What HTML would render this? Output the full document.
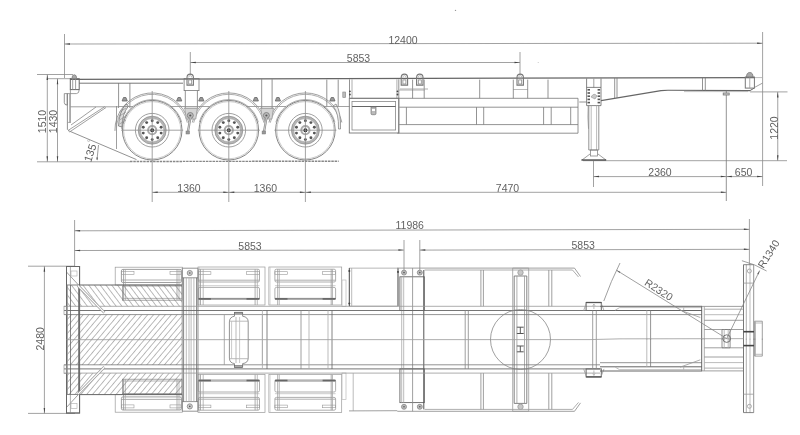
<!DOCTYPE html><html><head><meta charset="utf-8"><style>html,body{margin:0;padding:0;background:#fff;}svg{display:block;}svg{filter:grayscale(1);}</style></head><body><svg width="800" height="435" viewBox="0 0 800 435" font-family="Liberation Sans, sans-serif"><line x1="64.50" y1="34.00" x2="64.50" y2="78.00" stroke="#8a8a8a" stroke-width="0.8" />
<line x1="762.60" y1="32.00" x2="762.60" y2="186.00" stroke="#8a8a8a" stroke-width="0.8" />
<line x1="64.50" y1="44.00" x2="762.60" y2="43.20" stroke="#8a8a8a" stroke-width="0.8" />
<path d="M64.5,44 L70.0,43.25 L70.0,44.75Z" fill="#444" stroke="none"/>
<path d="M762.6,43.2 L757.1,42.45 L757.1,43.95Z" fill="#444" stroke="none"/>
<text x="403.00" y="39.80" font-size="10.5" fill="#626262" text-anchor="middle" dominant-baseline="central">12400</text>
<line x1="190.30" y1="52.00" x2="190.30" y2="75.00" stroke="#8a8a8a" stroke-width="0.8" />
<line x1="520.00" y1="52.00" x2="520.00" y2="75.00" stroke="#8a8a8a" stroke-width="0.8" />
<line x1="190.30" y1="62.50" x2="520.00" y2="62.50" stroke="#8a8a8a" stroke-width="0.8" />
<path d="M190.3,62.5 L195.8,61.75 L195.8,63.25Z" fill="#444" stroke="none"/>
<path d="M520,62.5 L514.5,61.75 L514.5,63.25Z" fill="#444" stroke="none"/>
<text x="358.50" y="58.30" font-size="10.5" fill="#626262" text-anchor="middle" dominant-baseline="central">5853</text>
<line x1="37.00" y1="74.50" x2="73.00" y2="74.50" stroke="#8a8a8a" stroke-width="0.8" />
<line x1="47.00" y1="78.70" x2="71.00" y2="78.70" stroke="#8a8a8a" stroke-width="0.8" />
<line x1="37.00" y1="161.80" x2="130.00" y2="161.80" stroke="#8a8a8a" stroke-width="0.8" />
<line x1="47.30" y1="74.50" x2="47.30" y2="161.80" stroke="#8a8a8a" stroke-width="0.8" />
<path d="M47.3,74.5 L46.55,80.0 L48.05,80.0Z" fill="#444" stroke="none"/>
<path d="M47.3,161.8 L46.55,156.3 L48.05,156.3Z" fill="#444" stroke="none"/>
<line x1="57.50" y1="78.70" x2="57.50" y2="161.80" stroke="#8a8a8a" stroke-width="0.8" />
<path d="M57.5,78.7 L56.75,84.2 L58.25,84.2Z" fill="#444" stroke="none"/>
<path d="M57.5,161.8 L56.75,156.3 L58.25,156.3Z" fill="#444" stroke="none"/>
<text x="41.50" y="121.50" font-size="10.5" fill="#626262" text-anchor="middle" dominant-baseline="central" transform="rotate(-90 41.50 121.50)">1510</text>
<text x="53.20" y="121.50" font-size="10.5" fill="#626262" text-anchor="middle" dominant-baseline="central" transform="rotate(-90 53.20 121.50)">1430</text>
<line x1="130.00" y1="161.50" x2="338.70" y2="161.20" stroke="#888" stroke-width="1.4" stroke-dasharray="2.5,0.8"/>
<line x1="583.00" y1="160.70" x2="787.00" y2="160.70" stroke="#8a8a8a" stroke-width="0.8" />
<line x1="70.00" y1="79.30" x2="755.00" y2="77.60" stroke="#666" stroke-width="1.2" />
<line x1="79.20" y1="83.20" x2="183.00" y2="83.20" stroke="#777" stroke-width="1.0" />
<rect x="70.30" y="78.70" width="8.90" height="10.90" rx="0" stroke="#666" stroke-width="1.0" fill="none"/>
<path d="M71.9,78.7 Q71.9,74.7 74.3,74.7 Q76.7,74.7 76.7,78.7 Z" stroke="#777" stroke-width="0.7" fill="#aaa"/>
<line x1="72.70" y1="78.70" x2="72.70" y2="89.60" stroke="#888" stroke-width="0.8" />
<line x1="75.60" y1="78.70" x2="75.60" y2="89.60" stroke="#888" stroke-width="0.8" />
<path d="M70.3,89.6 L70.3,89.6 M79.2,89.6 Q79.2,93.6 76.4,93.6 L64.3,93.6" stroke="#888" stroke-width="0.8" fill="none"/>
<path d="M64.3,93.6 L64.3,102.5 Q64.3,105.1 67.2,105.1 L67.2,93.6" stroke="#777" stroke-width="0.8" fill="none"/>
<line x1="67.40" y1="93.60" x2="67.40" y2="129.80" stroke="#777" stroke-width="0.8" />
<line x1="69.50" y1="93.60" x2="69.50" y2="122.90" stroke="#aaa" stroke-width="0.8" />
<line x1="70.40" y1="89.60" x2="70.40" y2="122.90" stroke="#888" stroke-width="0.8" />
<line x1="67.40" y1="122.40" x2="70.40" y2="122.40" stroke="#999" stroke-width="0.8" />
<line x1="70.40" y1="106.80" x2="118.60" y2="106.80" stroke="#888" stroke-width="0.8" />
<line x1="68.00" y1="130.50" x2="136.50" y2="159.60" stroke="#777" stroke-width="0.8" />
<line x1="68.00" y1="130.50" x2="104.80" y2="106.60" stroke="#888" stroke-width="0.8" />
<line x1="69.50" y1="132.00" x2="106.00" y2="107.50" stroke="#888" stroke-width="0.8" />
<line x1="71.00" y1="125.00" x2="96.00" y2="107.00" stroke="#888" stroke-width="0.8" />
<line x1="116.50" y1="106.00" x2="116.50" y2="149.00" stroke="#888" stroke-width="0.8" />
<line x1="118.60" y1="83.00" x2="118.60" y2="108.00" stroke="#777" stroke-width="0.8" />
<line x1="129.90" y1="83.00" x2="129.90" y2="108.00" stroke="#777" stroke-width="0.8" />
<text x="90.00" y="152.80" font-size="11" fill="#626262" text-anchor="middle" dominant-baseline="central" transform="rotate(-72 90.00 152.80)">135</text>
<circle cx="88.60" cy="140.60" r="1.00" stroke="#999" stroke-width="0.5" fill="none"/>
<line x1="98.50" y1="145.00" x2="97.00" y2="160.00" stroke="#888" stroke-width="0.8" />
<path d="M97.1,160.5 L96.39999999999999,157.5 L97.8,157.5Z" fill="#444" stroke="none"/>
<circle cx="152.20" cy="130.20" r="29.80" stroke="#777" stroke-width="0.9" fill="none"/>
<circle cx="152.20" cy="130.20" r="28.60" stroke="#aaa" stroke-width="0.6" fill="none"/>
<path d="M114.91,130.85 A37.30,37.30 0 0 1 188.68,122.44" stroke="#888" stroke-width="0.8" fill="none"/>
<path d="M116.31,130.83 A35.90,35.90 0 0 1 187.32,122.74" stroke="#999" stroke-width="0.8" fill="none"/>
<path d="M121.62,129.13 A30.60,30.60 0 0 1 181.76,122.28" stroke="#999" stroke-width="0.8" fill="none"/>
<circle cx="152.20" cy="130.20" r="16.80" stroke="#888" stroke-width="0.8" fill="none"/>
<circle cx="152.20" cy="130.20" r="12.85" stroke="#b4b4b4" stroke-width="2.3" fill="none"/>
<circle cx="152.20" cy="130.20" r="14.00" stroke="#888" stroke-width="0.7" fill="none"/>
<circle cx="152.20" cy="130.20" r="11.70" stroke="#999" stroke-width="0.6" fill="none"/>
<circle cx="152.20" cy="120.80" r="1.45" stroke="none" stroke-width="0.8" fill="#555"/>
<circle cx="146.67" cy="122.60" r="1.45" stroke="none" stroke-width="0.8" fill="#555"/>
<circle cx="143.26" cy="127.30" r="1.45" stroke="none" stroke-width="0.8" fill="#555"/>
<circle cx="143.26" cy="133.10" r="1.45" stroke="none" stroke-width="0.8" fill="#555"/>
<circle cx="146.67" cy="137.80" r="1.45" stroke="none" stroke-width="0.8" fill="#555"/>
<circle cx="152.20" cy="139.60" r="1.45" stroke="none" stroke-width="0.8" fill="#555"/>
<circle cx="157.73" cy="137.80" r="1.45" stroke="none" stroke-width="0.8" fill="#555"/>
<circle cx="161.14" cy="133.10" r="1.45" stroke="none" stroke-width="0.8" fill="#555"/>
<circle cx="161.14" cy="127.30" r="1.45" stroke="none" stroke-width="0.8" fill="#555"/>
<circle cx="157.73" cy="122.60" r="1.45" stroke="none" stroke-width="0.8" fill="#555"/>
<circle cx="152.20" cy="130.20" r="4.10" stroke="#aaa" stroke-width="2.0" fill="none"/>
<circle cx="152.20" cy="130.20" r="2.00" stroke="none" stroke-width="0.8" fill="#222"/>
<line x1="121.20" y1="130.20" x2="183.20" y2="130.20" stroke="#8c8c8c" stroke-width="0.8" />
<line x1="152.20" y1="91.00" x2="152.20" y2="202.00" stroke="#8c8c8c" stroke-width="0.8" />
<path d="M122.1,101 L123.49999999999999,97.5 L125.89999999999999,97.5 L127.29999999999998,101 Z" stroke="#666" stroke-width="0.8" fill="#999"/>
<path d="M176.6,101 L178.0,97.5 L180.39999999999998,97.5 L181.79999999999998,101 Z" stroke="#666" stroke-width="0.8" fill="#999"/>
<circle cx="228.80" cy="130.20" r="29.80" stroke="#777" stroke-width="0.9" fill="none"/>
<circle cx="228.80" cy="130.20" r="28.60" stroke="#aaa" stroke-width="0.6" fill="none"/>
<path d="M192.32,122.44 A37.30,37.30 0 0 1 265.28,122.44" stroke="#888" stroke-width="0.8" fill="none"/>
<path d="M193.68,122.74 A35.90,35.90 0 0 1 263.92,122.74" stroke="#999" stroke-width="0.8" fill="none"/>
<path d="M199.24,122.28 A30.60,30.60 0 0 1 258.36,122.28" stroke="#999" stroke-width="0.8" fill="none"/>
<circle cx="228.80" cy="130.20" r="16.80" stroke="#888" stroke-width="0.8" fill="none"/>
<circle cx="228.80" cy="130.20" r="12.85" stroke="#b4b4b4" stroke-width="2.3" fill="none"/>
<circle cx="228.80" cy="130.20" r="14.00" stroke="#888" stroke-width="0.7" fill="none"/>
<circle cx="228.80" cy="130.20" r="11.70" stroke="#999" stroke-width="0.6" fill="none"/>
<circle cx="228.80" cy="120.80" r="1.45" stroke="none" stroke-width="0.8" fill="#555"/>
<circle cx="223.27" cy="122.60" r="1.45" stroke="none" stroke-width="0.8" fill="#555"/>
<circle cx="219.86" cy="127.30" r="1.45" stroke="none" stroke-width="0.8" fill="#555"/>
<circle cx="219.86" cy="133.10" r="1.45" stroke="none" stroke-width="0.8" fill="#555"/>
<circle cx="223.27" cy="137.80" r="1.45" stroke="none" stroke-width="0.8" fill="#555"/>
<circle cx="228.80" cy="139.60" r="1.45" stroke="none" stroke-width="0.8" fill="#555"/>
<circle cx="234.33" cy="137.80" r="1.45" stroke="none" stroke-width="0.8" fill="#555"/>
<circle cx="237.74" cy="133.10" r="1.45" stroke="none" stroke-width="0.8" fill="#555"/>
<circle cx="237.74" cy="127.30" r="1.45" stroke="none" stroke-width="0.8" fill="#555"/>
<circle cx="234.33" cy="122.60" r="1.45" stroke="none" stroke-width="0.8" fill="#555"/>
<circle cx="228.80" cy="130.20" r="4.10" stroke="#aaa" stroke-width="2.0" fill="none"/>
<circle cx="228.80" cy="130.20" r="2.00" stroke="none" stroke-width="0.8" fill="#222"/>
<line x1="197.80" y1="130.20" x2="259.80" y2="130.20" stroke="#8c8c8c" stroke-width="0.8" />
<line x1="228.80" y1="91.00" x2="228.80" y2="202.00" stroke="#8c8c8c" stroke-width="0.8" />
<path d="M198.70000000000002,101 L200.10000000000002,97.5 L202.5,97.5 L203.9,101 Z" stroke="#666" stroke-width="0.8" fill="#999"/>
<path d="M253.20000000000002,101 L254.60000000000002,97.5 L257.0,97.5 L258.40000000000003,101 Z" stroke="#666" stroke-width="0.8" fill="#999"/>
<circle cx="305.40" cy="130.20" r="29.80" stroke="#777" stroke-width="0.9" fill="none"/>
<circle cx="305.40" cy="130.20" r="28.60" stroke="#aaa" stroke-width="0.6" fill="none"/>
<path d="M268.92,122.44 A37.30,37.30 0 0 1 341.88,122.44" stroke="#888" stroke-width="0.8" fill="none"/>
<path d="M270.28,122.74 A35.90,35.90 0 0 1 340.52,122.74" stroke="#999" stroke-width="0.8" fill="none"/>
<path d="M275.84,122.28 A30.60,30.60 0 0 1 334.96,122.28" stroke="#999" stroke-width="0.8" fill="none"/>
<circle cx="305.40" cy="130.20" r="16.80" stroke="#888" stroke-width="0.8" fill="none"/>
<circle cx="305.40" cy="130.20" r="12.85" stroke="#b4b4b4" stroke-width="2.3" fill="none"/>
<circle cx="305.40" cy="130.20" r="14.00" stroke="#888" stroke-width="0.7" fill="none"/>
<circle cx="305.40" cy="130.20" r="11.70" stroke="#999" stroke-width="0.6" fill="none"/>
<circle cx="305.40" cy="120.80" r="1.45" stroke="none" stroke-width="0.8" fill="#555"/>
<circle cx="299.87" cy="122.60" r="1.45" stroke="none" stroke-width="0.8" fill="#555"/>
<circle cx="296.46" cy="127.30" r="1.45" stroke="none" stroke-width="0.8" fill="#555"/>
<circle cx="296.46" cy="133.10" r="1.45" stroke="none" stroke-width="0.8" fill="#555"/>
<circle cx="299.87" cy="137.80" r="1.45" stroke="none" stroke-width="0.8" fill="#555"/>
<circle cx="305.40" cy="139.60" r="1.45" stroke="none" stroke-width="0.8" fill="#555"/>
<circle cx="310.93" cy="137.80" r="1.45" stroke="none" stroke-width="0.8" fill="#555"/>
<circle cx="314.34" cy="133.10" r="1.45" stroke="none" stroke-width="0.8" fill="#555"/>
<circle cx="314.34" cy="127.30" r="1.45" stroke="none" stroke-width="0.8" fill="#555"/>
<circle cx="310.93" cy="122.60" r="1.45" stroke="none" stroke-width="0.8" fill="#555"/>
<circle cx="305.40" cy="130.20" r="4.10" stroke="#aaa" stroke-width="2.0" fill="none"/>
<circle cx="305.40" cy="130.20" r="2.00" stroke="none" stroke-width="0.8" fill="#222"/>
<line x1="274.40" y1="130.20" x2="336.40" y2="130.20" stroke="#8c8c8c" stroke-width="0.8" />
<line x1="305.40" y1="91.00" x2="305.40" y2="202.00" stroke="#8c8c8c" stroke-width="0.8" />
<path d="M275.29999999999995,101 L276.7,97.5 L279.09999999999997,97.5 L280.5,101 Z" stroke="#666" stroke-width="0.8" fill="#999"/>
<path d="M329.79999999999995,101 L331.2,97.5 L333.59999999999997,97.5 L335.0,101 Z" stroke="#666" stroke-width="0.8" fill="#999"/>
<path d="M118.5,126 Q119,112 126,104 L128.5,106 Q122,114 122,127 Z" stroke="#777" stroke-width="0.8" fill="#ddd"/>
<line x1="119.50" y1="112.00" x2="126.00" y2="108.00" stroke="#888" stroke-width="0.6" />
<line x1="119.50" y1="116.00" x2="126.00" y2="112.00" stroke="#888" stroke-width="0.6" />
<line x1="119.50" y1="120.00" x2="126.00" y2="116.00" stroke="#888" stroke-width="0.6" />
<line x1="119.50" y1="124.00" x2="126.00" y2="120.00" stroke="#888" stroke-width="0.6" />
<path d="M336,104 Q341,112 340.5,129 L338.5,129 Q339,113 333,106 Z" stroke="#888" stroke-width="0.8" fill="#eee"/>
<rect x="184.10" y="78.50" width="14.90" height="12.10" rx="0" stroke="#777" stroke-width="0.8" fill="none"/>
<line x1="185.30" y1="90.60" x2="185.30" y2="108.30" stroke="#777" stroke-width="0.8" />
<line x1="197.40" y1="90.60" x2="197.40" y2="108.30" stroke="#777" stroke-width="0.8" />
<line x1="183.80" y1="108.30" x2="197.80" y2="108.30" stroke="#888" stroke-width="0.8" />
<path d="M184.8,108.3 L197.3,108.3 L195.8,119 L186.3,119Z" stroke="#999" stroke-width="0.8" fill="#d4d4d4"/>
<circle cx="190.30" cy="115.50" r="3.00" stroke="#777" stroke-width="0.8" fill="#bbb"/>
<circle cx="190.30" cy="115.50" r="1.10" stroke="none" stroke-width="0.8" fill="#555"/>
<line x1="190.30" y1="118.00" x2="187.80" y2="132.50" stroke="#888" stroke-width="2.2" />
<line x1="190.30" y1="118.00" x2="187.80" y2="132.50" stroke="#ddd" stroke-width="0.8" />
<rect x="186.00" y="131.00" width="3.50" height="3.00" rx="0" stroke="#777" stroke-width="0.5" fill="#999"/>
<line x1="259.90" y1="108.30" x2="273.90" y2="108.30" stroke="#888" stroke-width="0.8" />
<path d="M260.9,108.3 L273.4,108.3 L271.9,119 L262.4,119Z" stroke="#999" stroke-width="0.8" fill="#d4d4d4"/>
<circle cx="266.40" cy="115.50" r="3.00" stroke="#777" stroke-width="0.8" fill="#bbb"/>
<circle cx="266.40" cy="115.50" r="1.10" stroke="none" stroke-width="0.8" fill="#555"/>
<line x1="266.40" y1="118.00" x2="263.90" y2="132.50" stroke="#888" stroke-width="2.2" />
<line x1="266.40" y1="118.00" x2="263.90" y2="132.50" stroke="#ddd" stroke-width="0.8" />
<rect x="262.10" y="131.00" width="3.50" height="3.00" rx="0" stroke="#777" stroke-width="0.5" fill="#999"/>
<line x1="261.70" y1="79.20" x2="261.70" y2="108.30" stroke="#777" stroke-width="0.8" />
<line x1="272.10" y1="79.20" x2="272.10" y2="108.30" stroke="#777" stroke-width="0.8" />
<line x1="326.80" y1="79.60" x2="326.80" y2="106.40" stroke="#777" stroke-width="0.8" />
<line x1="338.20" y1="79.60" x2="338.20" y2="106.40" stroke="#777" stroke-width="0.8" />
<line x1="349.50" y1="79.30" x2="349.50" y2="98.30" stroke="#777" stroke-width="0.8" />
<line x1="352.00" y1="79.30" x2="352.00" y2="98.30" stroke="#999" stroke-width="0.8" />
<line x1="396.90" y1="79.30" x2="396.90" y2="98.30" stroke="#999" stroke-width="0.8" />
<line x1="398.80" y1="79.30" x2="398.80" y2="133.00" stroke="#777" stroke-width="0.8" />
<line x1="118.60" y1="106.50" x2="133.00" y2="106.50" stroke="#8c8c8c" stroke-width="0.8" />
<line x1="170.00" y1="106.50" x2="209.50" y2="106.50" stroke="#8c8c8c" stroke-width="0.8" />
<line x1="247.00" y1="106.50" x2="286.00" y2="106.50" stroke="#8c8c8c" stroke-width="0.8" />
<line x1="324.00" y1="106.50" x2="349.50" y2="106.50" stroke="#8c8c8c" stroke-width="0.8" />
<line x1="349.80" y1="98.30" x2="578.00" y2="98.30" stroke="#777" stroke-width="0.8" />
<rect x="349.30" y="98.30" width="49.50" height="34.70" rx="0" stroke="#777" stroke-width="0.9" fill="none"/>
<rect x="352.00" y="101.40" width="43.60" height="28.60" rx="0" stroke="#888" stroke-width="0.8" fill="none"/>
<line x1="352.00" y1="106.50" x2="395.60" y2="106.50" stroke="#666" stroke-width="1.1" />
<path d="M371,107 L376,107 L376,113.5 Q376,114.7 374.8,114.7 L372.2,114.7 Q371,114.7 371,113.5 Z" stroke="#777" stroke-width="0.7" fill="#bbb"/>
<rect x="372.00" y="109.00" width="3.00" height="2.00" rx="0" stroke="none" stroke-width="0" fill="#fff"/>
<rect x="342.80" y="92.00" width="2.90" height="5.60" rx="0" stroke="#888" stroke-width="0.6" fill="#bbb"/>
<circle cx="349.90" cy="91.30" r="0.90" stroke="none" stroke-width="0.8" fill="#444"/>
<circle cx="349.90" cy="94.50" r="0.90" stroke="none" stroke-width="0.8" fill="#444"/>
<circle cx="397.50" cy="91.30" r="0.90" stroke="none" stroke-width="0.8" fill="#444"/>
<circle cx="397.50" cy="94.50" r="0.90" stroke="none" stroke-width="0.8" fill="#444"/>
<path d="M401.2,85.1 L401.2,77.39999999999999 Q401.2,74.1 404.4,74.1 Q407.59999999999997,74.1 407.59999999999997,77.39999999999999 L407.59999999999997,85.1 Z" stroke="#777" stroke-width="1.1" fill="none"/>
<rect x="402.90" y="79.90" width="3.00" height="4.10" rx="0" stroke="#888" stroke-width="0.8" fill="none"/>
<path d="M402.79999999999995,77.5 Q402.79999999999995,75.6 404.4,75.6 Q406.0,75.6 406.0,77.5" stroke="#999" stroke-width="0.6" fill="none"/>
<path d="M416.6,85.1 L416.6,77.39999999999999 Q416.6,74.1 419.8,74.1 Q423.0,74.1 423.0,77.39999999999999 L423.0,85.1 Z" stroke="#777" stroke-width="1.1" fill="none"/>
<rect x="418.30" y="79.90" width="3.00" height="4.10" rx="0" stroke="#888" stroke-width="0.8" fill="none"/>
<path d="M418.2,77.5 Q418.2,75.6 419.8,75.6 Q421.40000000000003,75.6 421.40000000000003,77.5" stroke="#999" stroke-width="0.6" fill="none"/>
<path d="M517.0,85.1 L517.0,77.39999999999999 Q517.0,74.1 520.2,74.1 Q523.4000000000001,74.1 523.4000000000001,77.39999999999999 L523.4000000000001,85.1 Z" stroke="#777" stroke-width="1.1" fill="none"/>
<rect x="518.70" y="79.90" width="3.00" height="4.10" rx="0" stroke="#888" stroke-width="0.8" fill="none"/>
<path d="M518.6,77.5 Q518.6,75.6 520.2,75.6 Q521.8000000000001,75.6 521.8000000000001,77.5" stroke="#999" stroke-width="0.6" fill="none"/>
<line x1="398.20" y1="90.10" x2="424.50" y2="90.10" stroke="#aaa" stroke-width="0.8" />
<line x1="513.30" y1="89.50" x2="527.70" y2="89.50" stroke="#aaa" stroke-width="0.8" />
<path d="M187.0,85.1 L187.0,77.39999999999999 Q187.0,74.1 190.2,74.1 Q193.39999999999998,74.1 193.39999999999998,77.39999999999999 L193.39999999999998,85.1 Z" stroke="#777" stroke-width="1.1" fill="none"/>
<rect x="188.70" y="79.90" width="3.00" height="4.10" rx="0" stroke="#888" stroke-width="0.8" fill="none"/>
<path d="M188.6,77.5 Q188.6,75.6 190.2,75.6 Q191.79999999999998,75.6 191.79999999999998,77.5" stroke="#999" stroke-width="0.6" fill="none"/>
<line x1="412.60" y1="79.60" x2="412.60" y2="98.30" stroke="#777" stroke-width="0.8" />
<line x1="424.20" y1="79.60" x2="424.20" y2="98.30" stroke="#777" stroke-width="0.8" />
<line x1="479.70" y1="79.60" x2="479.70" y2="98.30" stroke="#777" stroke-width="0.8" />
<line x1="513.30" y1="79.60" x2="513.30" y2="98.30" stroke="#777" stroke-width="0.8" />
<line x1="527.70" y1="79.60" x2="527.70" y2="98.30" stroke="#777" stroke-width="0.8" />
<line x1="548.00" y1="79.60" x2="548.00" y2="98.30" stroke="#777" stroke-width="0.8" />
<line x1="400.00" y1="89.00" x2="428.00" y2="89.00" stroke="#999" stroke-width="0.8" />
<line x1="399.20" y1="107.20" x2="578.00" y2="107.20" stroke="#777" stroke-width="0.8" />
<line x1="399.20" y1="124.60" x2="578.00" y2="124.60" stroke="#777" stroke-width="0.8" />
<line x1="397.30" y1="133.20" x2="578.00" y2="133.20" stroke="#777" stroke-width="0.8" />
<line x1="578.00" y1="98.30" x2="578.00" y2="133.20" stroke="#777" stroke-width="0.8" />
<line x1="406.40" y1="107.20" x2="406.40" y2="124.60" stroke="#777" stroke-width="0.8" />
<line x1="476.50" y1="107.20" x2="476.50" y2="124.60" stroke="#777" stroke-width="0.8" />
<line x1="483.70" y1="107.20" x2="483.70" y2="124.60" stroke="#777" stroke-width="0.8" />
<line x1="543.60" y1="107.20" x2="543.60" y2="124.60" stroke="#777" stroke-width="0.8" />
<line x1="551.20" y1="107.20" x2="551.20" y2="124.60" stroke="#777" stroke-width="0.8" />
<line x1="570.70" y1="107.20" x2="570.70" y2="124.60" stroke="#777" stroke-width="0.8" />
<line x1="586.60" y1="78.50" x2="586.60" y2="105.60" stroke="#666" stroke-width="0.8" />
<line x1="601.00" y1="78.50" x2="601.00" y2="105.60" stroke="#666" stroke-width="0.8" />
<line x1="593.80" y1="78.50" x2="593.80" y2="87.40" stroke="#888" stroke-width="0.8" />
<line x1="586.60" y1="87.40" x2="601.00" y2="87.40" stroke="#666" stroke-width="0.8" />
<line x1="586.60" y1="105.60" x2="601.00" y2="105.60" stroke="#666" stroke-width="0.8" />
<rect x="587.50" y="89.00" width="2.50" height="1.60" rx="0" stroke="none" stroke-width="0.8" fill="#555"/>
<rect x="597.60" y="89.00" width="2.50" height="1.60" rx="0" stroke="none" stroke-width="0.8" fill="#555"/>
<rect x="587.50" y="92.20" width="2.50" height="1.60" rx="0" stroke="none" stroke-width="0.8" fill="#555"/>
<rect x="597.60" y="92.20" width="2.50" height="1.60" rx="0" stroke="none" stroke-width="0.8" fill="#555"/>
<rect x="587.50" y="95.40" width="2.50" height="1.60" rx="0" stroke="none" stroke-width="0.8" fill="#555"/>
<rect x="597.60" y="95.40" width="2.50" height="1.60" rx="0" stroke="none" stroke-width="0.8" fill="#555"/>
<rect x="587.50" y="98.60" width="2.50" height="1.60" rx="0" stroke="none" stroke-width="0.8" fill="#555"/>
<rect x="597.60" y="98.60" width="2.50" height="1.60" rx="0" stroke="none" stroke-width="0.8" fill="#555"/>
<rect x="587.50" y="101.80" width="2.50" height="1.60" rx="0" stroke="none" stroke-width="0.8" fill="#555"/>
<rect x="597.60" y="101.80" width="2.50" height="1.60" rx="0" stroke="none" stroke-width="0.8" fill="#555"/>
<path d="M591,97 Q594,92 597,96 L595,99 Z" stroke="#7a9a7a" stroke-width="0.6" fill="#bcd0bc"/>
<line x1="588.80" y1="105.60" x2="588.80" y2="150.00" stroke="#777" stroke-width="0.8" />
<line x1="598.80" y1="105.60" x2="598.80" y2="150.00" stroke="#777" stroke-width="0.8" />
<line x1="591.20" y1="105.60" x2="591.20" y2="150.00" stroke="#aaa" stroke-width="0.8" />
<line x1="596.60" y1="105.60" x2="596.60" y2="150.00" stroke="#aaa" stroke-width="0.8" />
<path d="M588.2,105.6 Q587.5,117 588.5,128.8" stroke="#888" stroke-width="0.7" fill="none"/>
<rect x="590.50" y="150.00" width="7.00" height="6.00" rx="0" stroke="#888" stroke-width="0.8" fill="none"/>
<line x1="588.80" y1="150.00" x2="598.80" y2="150.00" stroke="#777" stroke-width="0.8" />
<path d="M582,160 L590,154 M606,160 L598,154" stroke="#888" stroke-width="0.8" fill="none"/>
<line x1="581.40" y1="160.00" x2="606.20" y2="160.00" stroke="#444" stroke-width="1.3" />
<line x1="579.30" y1="102.00" x2="586.60" y2="102.00" stroke="#777" stroke-width="0.8" />
<line x1="755.00" y1="77.60" x2="762.00" y2="77.60" stroke="#aaa" stroke-width="0.8" />
<path d="M601,100.6 L661,90.6 Q664,90.2 668,90.2 L750,90.6" stroke="#666" stroke-width="1.1" fill="none"/>
<line x1="684.00" y1="91.60" x2="748.00" y2="91.60" stroke="#aaa" stroke-width="0.7" />
<line x1="750.00" y1="90.60" x2="754.40" y2="88.00" stroke="#666" stroke-width="1.0" />
<line x1="754.40" y1="87.50" x2="762.50" y2="83.10" stroke="#888" stroke-width="0.8" />
<line x1="614.70" y1="78.00" x2="614.70" y2="98.00" stroke="#777" stroke-width="0.8" />
<line x1="617.00" y1="78.00" x2="617.00" y2="98.00" stroke="#777" stroke-width="0.8" />
<line x1="702.50" y1="77.60" x2="702.50" y2="90.60" stroke="#777" stroke-width="0.8" />
<line x1="705.30" y1="77.60" x2="705.30" y2="90.60" stroke="#777" stroke-width="0.8" />
<rect x="745.30" y="77.00" width="9.10" height="11.10" rx="0" stroke="#777" stroke-width="1.0" fill="none"/>
<line x1="749.75" y1="77.00" x2="749.75" y2="88.10" stroke="#999" stroke-width="0.8" />
<path d="M746.5,77 Q746.5,72.5 749.75,72.5 Q753,72.5 753,77 Z" stroke="#777" stroke-width="0.8" fill="#aaa"/>
<line x1="726.30" y1="90.60" x2="726.30" y2="201.00" stroke="#777" stroke-width="0.8" />
<rect x="723.20" y="93.00" width="6.00" height="2.00" rx="0" stroke="#777" stroke-width="0.8" fill="#ccc"/>
<line x1="750.00" y1="91.90" x2="787.50" y2="91.90" stroke="#8a8a8a" stroke-width="0.8" />
<line x1="777.75" y1="91.90" x2="777.75" y2="160.70" stroke="#8a8a8a" stroke-width="0.8" />
<path d="M777.75,91.9 L777.0,97.4 L778.5,97.4Z" fill="#444" stroke="none"/>
<path d="M777.75,160.7 L777.0,155.2 L778.5,155.2Z" fill="#444" stroke="none"/>
<text x="774.00" y="128.00" font-size="10.5" fill="#626262" text-anchor="middle" dominant-baseline="central" transform="rotate(-90 774.00 128.00)">1220</text>
<line x1="593.50" y1="161.00" x2="593.50" y2="187.00" stroke="#8a8a8a" stroke-width="0.8" />
<line x1="593.50" y1="176.60" x2="762.60" y2="176.60" stroke="#8a8a8a" stroke-width="0.8" />
<path d="M593.5,176.6 L599.0,175.85 L599.0,177.35Z" fill="#444" stroke="none"/>
<path d="M726.3,176.6 L720.8,175.85 L720.8,177.35Z" fill="#444" stroke="none"/>
<path d="M726.3,176.6 L731.8,175.85 L731.8,177.35Z" fill="#444" stroke="none"/>
<path d="M762.6,176.6 L757.1,175.85 L757.1,177.35Z" fill="#444" stroke="none"/>
<text x="660.00" y="172.30" font-size="10.5" fill="#626262" text-anchor="middle" dominant-baseline="central">2360</text>
<text x="743.60" y="172.30" font-size="10.5" fill="#626262" text-anchor="middle" dominant-baseline="central">650</text>
<line x1="152.20" y1="192.30" x2="726.30" y2="192.30" stroke="#8a8a8a" stroke-width="0.8" />
<path d="M152.2,192.3 L157.7,191.55 L157.7,193.05Z" fill="#444" stroke="none"/>
<path d="M228.8,192.3 L223.3,191.55 L223.3,193.05Z" fill="#444" stroke="none"/>
<path d="M228.8,192.3 L234.3,191.55 L234.3,193.05Z" fill="#444" stroke="none"/>
<path d="M305.4,192.3 L299.9,191.55 L299.9,193.05Z" fill="#444" stroke="none"/>
<path d="M305.4,192.3 L310.9,191.55 L310.9,193.05Z" fill="#444" stroke="none"/>
<path d="M726.4,192.3 L720.9,191.55 L720.9,193.05Z" fill="#444" stroke="none"/>
<text x="189.00" y="187.70" font-size="10.5" fill="#626262" text-anchor="middle" dominant-baseline="central">1360</text>
<text x="265.40" y="187.70" font-size="10.5" fill="#626262" text-anchor="middle" dominant-baseline="central">1360</text>
<text x="507.50" y="187.70" font-size="10.5" fill="#626262" text-anchor="middle" dominant-baseline="central">7470</text>
<circle cx="455.50" cy="10.40" r="0.70" stroke="none" stroke-width="0.8" fill="#999"/>
<circle cx="538.20" cy="62.40" r="0.50" stroke="none" stroke-width="0.8" fill="#bbb"/>
<line x1="74.60" y1="220.00" x2="74.60" y2="266.00" stroke="#8a8a8a" stroke-width="0.8" />
<line x1="749.40" y1="219.00" x2="749.40" y2="264.50" stroke="#8a8a8a" stroke-width="0.8" />
<line x1="74.60" y1="230.80" x2="749.40" y2="229.30" stroke="#8a8a8a" stroke-width="0.8" />
<path d="M74.6,230.8 L80.1,230.05 L80.1,231.55Z" fill="#444" stroke="none"/>
<path d="M749.4,229.3 L743.9,228.55 L743.9,230.05Z" fill="#444" stroke="none"/>
<text x="409.70" y="225.40" font-size="10.5" fill="#626262" text-anchor="middle" dominant-baseline="central">11986</text>
<line x1="74.60" y1="250.50" x2="403.90" y2="250.10" stroke="#8a8a8a" stroke-width="0.8" />
<path d="M74.6,250.5 L80.1,249.75 L80.1,251.25Z" fill="#444" stroke="none"/>
<path d="M403.9,250.1 L398.4,249.35 L398.4,250.85Z" fill="#444" stroke="none"/>
<line x1="419.80" y1="250.10" x2="749.40" y2="249.30" stroke="#8a8a8a" stroke-width="0.8" />
<path d="M419.8,250.1 L425.3,249.35 L425.3,250.85Z" fill="#444" stroke="none"/>
<path d="M749.4,249.3 L743.9,248.55 L743.9,250.05Z" fill="#444" stroke="none"/>
<line x1="404.00" y1="240.00" x2="404.00" y2="270.00" stroke="#8a8a8a" stroke-width="0.8" />
<line x1="419.80" y1="240.00" x2="419.80" y2="270.00" stroke="#8a8a8a" stroke-width="0.8" />
<text x="250.00" y="246.20" font-size="10.5" fill="#626262" text-anchor="middle" dominant-baseline="central">5853</text>
<text x="583.20" y="245.00" font-size="10.5" fill="#626262" text-anchor="middle" dominant-baseline="central">5853</text>
<line x1="28.00" y1="266.20" x2="75.00" y2="266.20" stroke="#8a8a8a" stroke-width="0.8" />
<line x1="28.00" y1="413.40" x2="75.00" y2="413.40" stroke="#8a8a8a" stroke-width="0.8" />
<line x1="44.40" y1="266.20" x2="44.40" y2="413.40" stroke="#8a8a8a" stroke-width="0.8" />
<path d="M44.4,266.2 L43.65,271.7 L45.15,271.7Z" fill="#444" stroke="none"/>
<path d="M44.4,413.4 L43.65,407.9 L45.15,407.9Z" fill="#444" stroke="none"/>
<text x="39.80" y="338.80" font-size="10.5" fill="#626262" text-anchor="middle" dominant-baseline="central" transform="rotate(-90 39.80 338.80)">2480</text>
<rect x="66.50" y="266.50" width="13.10" height="18.50" rx="0" stroke="#777" stroke-width="0.9" fill="none"/>
<line x1="66.50" y1="272.00" x2="78.50" y2="285.00" stroke="#888" stroke-width="0.8" />
<rect x="71.00" y="271.00" width="6.00" height="5.00" rx="0" stroke="#aaa" stroke-width="0.6" fill="none"/>
<line x1="70.40" y1="266.50" x2="70.40" y2="285.00" stroke="#999" stroke-width="0.8" />
<rect x="115.20" y="267.20" width="67.30" height="17.80" rx="0" stroke="#999" stroke-width="0.7" fill="none"/>
<rect x="121.40" y="269.40" width="60.00" height="13.10" rx="1.5" stroke="#888" stroke-width="0.8" fill="none"/>
<line x1="121.40" y1="280.00" x2="181.40" y2="280.00" stroke="#999" stroke-width="0.8" />
<line x1="123.50" y1="269.40" x2="123.50" y2="300.00" stroke="#999" stroke-width="0.8" />
<line x1="125.30" y1="269.40" x2="125.30" y2="300.00" stroke="#aaa" stroke-width="0.8" />
<line x1="177.00" y1="269.40" x2="177.00" y2="300.00" stroke="#999" stroke-width="0.8" />
<line x1="179.00" y1="269.40" x2="179.00" y2="300.00" stroke="#aaa" stroke-width="0.8" />
<rect x="121.50" y="271.50" width="12.50" height="3.00" rx="0" stroke="#999" stroke-width="0.6" fill="none"/>
<rect x="170.00" y="271.50" width="11.00" height="3.00" rx="0" stroke="#999" stroke-width="0.6" fill="none"/>
<rect x="122.40" y="286.00" width="59.60" height="14.20" rx="0" stroke="#888" stroke-width="0.7" fill="none"/>
<line x1="122.40" y1="298.40" x2="182.00" y2="298.40" stroke="#999" stroke-width="0.7" />
<rect x="198.00" y="267.00" width="67.00" height="38.00" rx="0" stroke="#999" stroke-width="0.7" fill="none"/>
<line x1="199.20" y1="267.00" x2="199.20" y2="305.00" stroke="#bbb" stroke-width="0.6" />
<rect x="198.30" y="269.20" width="61.20" height="12.80" rx="1.5" stroke="#999" stroke-width="0.8" fill="none"/>
<line x1="198.30" y1="280.20" x2="259.50" y2="280.20" stroke="#999" stroke-width="0.8" />
<rect x="198.30" y="287.40" width="61.20" height="12.10" rx="1.5" stroke="#999" stroke-width="0.8" fill="none"/>
<line x1="198.30" y1="285.70" x2="259.50" y2="285.70" stroke="#aaa" stroke-width="0.6" />
<line x1="198.30" y1="298.40" x2="259.50" y2="298.40" stroke="#888" stroke-width="1.0" />
<line x1="200.50" y1="269.20" x2="200.50" y2="305.00" stroke="#999" stroke-width="0.8" />
<line x1="203.20" y1="269.20" x2="203.20" y2="305.00" stroke="#aaa" stroke-width="0.8" />
<line x1="255.10" y1="269.20" x2="255.10" y2="305.00" stroke="#999" stroke-width="0.8" />
<line x1="257.30" y1="269.20" x2="257.30" y2="305.00" stroke="#aaa" stroke-width="0.8" />
<rect x="198.30" y="271.70" width="12.60" height="2.60" rx="0" stroke="#999" stroke-width="0.6" fill="none"/>
<rect x="246.50" y="271.70" width="13.00" height="2.60" rx="0" stroke="#999" stroke-width="0.6" fill="none"/>
<line x1="198.30" y1="298.90" x2="210.90" y2="298.90" stroke="#666" stroke-width="1.6" />
<line x1="246.50" y1="298.90" x2="259.50" y2="298.90" stroke="#666" stroke-width="1.6" />
<rect x="268.90" y="267.00" width="72.80" height="38.00" rx="0" stroke="#999" stroke-width="0.7" fill="none"/>
<line x1="270.10" y1="267.00" x2="270.10" y2="305.00" stroke="#bbb" stroke-width="0.6" />
<rect x="274.90" y="269.20" width="60.70" height="12.80" rx="1.5" stroke="#999" stroke-width="0.8" fill="none"/>
<line x1="274.90" y1="280.20" x2="335.60" y2="280.20" stroke="#999" stroke-width="0.8" />
<rect x="274.90" y="287.40" width="60.70" height="12.10" rx="1.5" stroke="#999" stroke-width="0.8" fill="none"/>
<line x1="274.90" y1="285.70" x2="335.60" y2="285.70" stroke="#aaa" stroke-width="0.6" />
<line x1="274.90" y1="298.40" x2="335.60" y2="298.40" stroke="#888" stroke-width="1.0" />
<line x1="277.70" y1="269.20" x2="277.70" y2="305.00" stroke="#999" stroke-width="0.8" />
<line x1="279.30" y1="269.20" x2="279.30" y2="305.00" stroke="#aaa" stroke-width="0.8" />
<line x1="331.20" y1="269.20" x2="331.20" y2="305.00" stroke="#999" stroke-width="0.8" />
<line x1="332.50" y1="269.20" x2="332.50" y2="305.00" stroke="#aaa" stroke-width="0.8" />
<rect x="274.90" y="271.70" width="12.60" height="2.60" rx="0" stroke="#999" stroke-width="0.6" fill="none"/>
<rect x="322.60" y="271.70" width="13.00" height="2.60" rx="0" stroke="#999" stroke-width="0.6" fill="none"/>
<line x1="274.90" y1="298.90" x2="287.50" y2="298.90" stroke="#666" stroke-width="1.6" />
<line x1="322.60" y1="298.90" x2="335.60" y2="298.90" stroke="#666" stroke-width="1.6" />
<rect x="342.00" y="280.00" width="4.00" height="26.40" rx="0" stroke="#bbb" stroke-width="0.7" fill="none"/>
<path d="M182.2,339.7 L182.2,268.2 L198,268.2 L198,339.7" stroke="#888" stroke-width="0.9" fill="none"/>
<line x1="182.20" y1="277.80" x2="198.00" y2="277.80" stroke="#777" stroke-width="0.8" />
<circle cx="189.80" cy="273.00" r="2.60" stroke="#888" stroke-width="0.8" fill="#ccc"/>
<circle cx="189.80" cy="273.00" r="0.80" stroke="none" stroke-width="0.8" fill="#555"/>
<line x1="183.60" y1="277.80" x2="183.60" y2="339.70" stroke="#666" stroke-width="0.8" />
<line x1="196.60" y1="277.80" x2="196.60" y2="339.70" stroke="#666" stroke-width="0.8" />
<line x1="186.30" y1="277.80" x2="186.30" y2="339.70" stroke="#aaa" stroke-width="0.8" />
<line x1="189.00" y1="277.80" x2="189.00" y2="339.70" stroke="#aaa" stroke-width="0.8" />
<line x1="191.10" y1="277.80" x2="191.10" y2="339.70" stroke="#aaa" stroke-width="0.8" />
<line x1="193.90" y1="277.80" x2="193.90" y2="339.70" stroke="#aaa" stroke-width="0.8" />
<line x1="397.30" y1="268.10" x2="574.50" y2="268.10" stroke="#888" stroke-width="0.8" />
<line x1="424.60" y1="270.00" x2="572.50" y2="270.00" stroke="#999" stroke-width="0.8" />
<line x1="574.50" y1="268.10" x2="580.50" y2="276.50" stroke="#888" stroke-width="0.8" />
<line x1="572.50" y1="270.00" x2="578.50" y2="277.00" stroke="#999" stroke-width="0.8" />
<rect x="399.90" y="276.80" width="24.40" height="33.70" rx="0" stroke="#666" stroke-width="0.9" fill="none"/>
<line x1="412.60" y1="268.10" x2="412.60" y2="339.70" stroke="#888" stroke-width="0.8" />
<line x1="403.70" y1="276.80" x2="403.70" y2="339.70" stroke="#aaa" stroke-width="0.8" />
<line x1="401.70" y1="276.80" x2="401.70" y2="339.70" stroke="#aaa" stroke-width="0.8" />
<line x1="423.80" y1="270.00" x2="423.80" y2="339.70" stroke="#555" stroke-width="1.0" />
<circle cx="404.00" cy="272.60" r="2.50" stroke="#888" stroke-width="0.8" fill="#bbb"/>
<circle cx="404.00" cy="272.60" r="0.80" stroke="none" stroke-width="0.8" fill="#555"/>
<circle cx="419.80" cy="272.60" r="2.50" stroke="#888" stroke-width="0.8" fill="#bbb"/>
<circle cx="419.80" cy="272.60" r="0.80" stroke="none" stroke-width="0.8" fill="#555"/>
<path d="M512.7,339.7 L512.7,268.1 L528.7,268.1 L528.7,339.7" stroke="#999" stroke-width="0.8" fill="none"/>
<path d="M514.2,339.7 L514.2,276 L526.8,276 L526.8,339.7" stroke="#777" stroke-width="0.9" fill="none"/>
<line x1="516.90" y1="276.00" x2="516.90" y2="339.70" stroke="#999" stroke-width="0.8" />
<line x1="524.50" y1="276.00" x2="524.50" y2="339.70" stroke="#999" stroke-width="0.8" />
<circle cx="520.50" cy="272.60" r="2.70" stroke="#999" stroke-width="0.8" fill="#c8c8c8"/>
<line x1="480.90" y1="270.00" x2="480.90" y2="306.30" stroke="#888" stroke-width="0.8" />
<line x1="483.40" y1="270.00" x2="483.40" y2="306.30" stroke="#888" stroke-width="0.8" />
<line x1="548.80" y1="270.00" x2="548.80" y2="306.30" stroke="#888" stroke-width="0.8" />
<line x1="551.80" y1="270.00" x2="551.80" y2="306.30" stroke="#888" stroke-width="0.8" />
<line x1="64.00" y1="306.30" x2="600.00" y2="306.30" stroke="#999" stroke-width="0.8" />
<line x1="64.00" y1="310.50" x2="600.00" y2="310.50" stroke="#666" stroke-width="0.9" />
<line x1="64.00" y1="314.60" x2="600.00" y2="314.60" stroke="#777" stroke-width="0.8" />
<line x1="262.40" y1="310.40" x2="262.40" y2="339.70" stroke="#aaa" stroke-width="0.8" />
<line x1="267.00" y1="310.40" x2="267.00" y2="339.70" stroke="#666" stroke-width="0.8" />
<line x1="301.00" y1="310.40" x2="301.00" y2="339.70" stroke="#888" stroke-width="0.8" />
<line x1="309.00" y1="310.40" x2="309.00" y2="339.70" stroke="#aaa" stroke-width="0.8" />
<line x1="328.00" y1="310.40" x2="328.00" y2="339.70" stroke="#aaa" stroke-width="0.8" />
<line x1="332.00" y1="310.40" x2="332.00" y2="339.70" stroke="#666" stroke-width="0.8" />
<line x1="465.20" y1="310.40" x2="465.20" y2="339.70" stroke="#888" stroke-width="0.8" />
<line x1="468.30" y1="310.40" x2="468.30" y2="339.70" stroke="#888" stroke-width="0.8" />
<rect x="586.10" y="302.50" width="15.20" height="8.00" rx="0" stroke="#666" stroke-width="1.0" fill="none"/>
<line x1="586.10" y1="302.50" x2="601.30" y2="302.50" stroke="#555" stroke-width="1.3" />
<line x1="583.70" y1="310.50" x2="586.10" y2="303.50" stroke="#999" stroke-width="0.8" />
<line x1="604.00" y1="310.50" x2="601.30" y2="303.50" stroke="#999" stroke-width="0.8" />
<line x1="593.90" y1="304.00" x2="593.90" y2="309.00" stroke="#aaa" stroke-width="0.8" />
<path d="M592.5,306 L593.9,304 L595.3,306" stroke="#aaa" stroke-width="0.6" fill="none"/>
<line x1="592.70" y1="310.50" x2="592.70" y2="339.70" stroke="#888" stroke-width="0.8" />
<line x1="596.30" y1="310.50" x2="596.30" y2="339.70" stroke="#888" stroke-width="0.8" />
<line x1="600.00" y1="306.30" x2="702.00" y2="306.30" stroke="#666" stroke-width="1.0" />
<line x1="600.00" y1="310.50" x2="702.00" y2="310.50" stroke="#666" stroke-width="1.0" />
<line x1="600.00" y1="314.60" x2="702.00" y2="314.60" stroke="#777" stroke-width="0.8" />
<path d="M615.2,310.2 L619.6,307.6 L701.7,307.6" stroke="#aaa" stroke-width="0.8" fill="none"/>
<line x1="646.80" y1="310.40" x2="646.80" y2="339.70" stroke="#aaa" stroke-width="0.8" />
<line x1="650.60" y1="310.40" x2="650.60" y2="339.70" stroke="#777" stroke-width="0.8" />
<line x1="680.00" y1="310.10" x2="700.30" y2="317.50" stroke="#999" stroke-width="0.8" />
<line x1="683.70" y1="307.60" x2="683.70" y2="310.40" stroke="#aaa" stroke-width="0.8" />
<line x1="701.70" y1="306.40" x2="743.50" y2="306.40" stroke="#888" stroke-width="0.8" />
<line x1="704.30" y1="309.20" x2="743.50" y2="309.20" stroke="#999" stroke-width="0.8" />
<line x1="701.70" y1="306.40" x2="701.70" y2="339.70" stroke="#666" stroke-width="1.0" />
<line x1="704.30" y1="306.40" x2="704.30" y2="339.70" stroke="#999" stroke-width="0.8" />
<line x1="704.30" y1="314.70" x2="743.50" y2="314.70" stroke="#aaa" stroke-width="0.8" />
<line x1="704.30" y1="320.30" x2="743.50" y2="320.30" stroke="#888" stroke-width="0.8" />
<line x1="704.30" y1="329.50" x2="743.50" y2="329.50" stroke="#888" stroke-width="0.8" />
<path d="M722,339.7 L722,329.5 L730.1,329.5 L730.1,339.7" stroke="#777" stroke-width="0.8" fill="none"/>
<line x1="724.20" y1="329.50" x2="724.20" y2="339.70" stroke="#aaa" stroke-width="0.8" />
<line x1="728.20" y1="329.50" x2="728.20" y2="339.70" stroke="#aaa" stroke-width="0.8" />
<line x1="743.50" y1="264.70" x2="743.50" y2="339.70" stroke="#777" stroke-width="1.0" />
<line x1="746.30" y1="264.70" x2="746.30" y2="339.70" stroke="#999" stroke-width="0.8" />
<line x1="750.00" y1="264.70" x2="750.00" y2="339.70" stroke="#aaa" stroke-width="0.8" />
<line x1="753.70" y1="264.70" x2="753.70" y2="339.70" stroke="#888" stroke-width="0.9" />
<line x1="743.50" y1="264.70" x2="753.70" y2="264.70" stroke="#666" stroke-width="0.8" />
<line x1="743.50" y1="283.10" x2="753.70" y2="283.10" stroke="#999" stroke-width="0.8" />
<circle cx="749.40" cy="271.00" r="2.00" stroke="#999" stroke-width="0.8" fill="none"/>
<path d="M754.6,339.7 L754.6,321.2 L762.3,321.2 L762.3,339.7" stroke="#888" stroke-width="0.8" fill="none"/>
<line x1="755.50" y1="321.20" x2="755.50" y2="339.70" stroke="#aaa" stroke-width="0.8" />
<line x1="754.60" y1="323.00" x2="762.30" y2="323.00" stroke="#aaa" stroke-width="0.8" />
<line x1="743.50" y1="331.70" x2="754.00" y2="331.70" stroke="#444" stroke-width="1.6" />
<g transform="matrix(1,0,0,-1,0,679.400)"><rect x="66.50" y="266.50" width="13.10" height="18.50" rx="0" stroke="#777" stroke-width="0.9" fill="none"/>
<line x1="66.50" y1="272.00" x2="78.50" y2="285.00" stroke="#888" stroke-width="0.8" />
<rect x="71.00" y="271.00" width="6.00" height="5.00" rx="0" stroke="#aaa" stroke-width="0.6" fill="none"/>
<line x1="70.40" y1="266.50" x2="70.40" y2="285.00" stroke="#999" stroke-width="0.8" />
<rect x="115.20" y="267.20" width="67.30" height="17.80" rx="0" stroke="#999" stroke-width="0.7" fill="none"/>
<rect x="121.40" y="269.40" width="60.00" height="13.10" rx="1.5" stroke="#888" stroke-width="0.8" fill="none"/>
<line x1="121.40" y1="280.00" x2="181.40" y2="280.00" stroke="#999" stroke-width="0.8" />
<line x1="123.50" y1="269.40" x2="123.50" y2="300.00" stroke="#999" stroke-width="0.8" />
<line x1="125.30" y1="269.40" x2="125.30" y2="300.00" stroke="#aaa" stroke-width="0.8" />
<line x1="177.00" y1="269.40" x2="177.00" y2="300.00" stroke="#999" stroke-width="0.8" />
<line x1="179.00" y1="269.40" x2="179.00" y2="300.00" stroke="#aaa" stroke-width="0.8" />
<rect x="121.50" y="271.50" width="12.50" height="3.00" rx="0" stroke="#999" stroke-width="0.6" fill="none"/>
<rect x="170.00" y="271.50" width="11.00" height="3.00" rx="0" stroke="#999" stroke-width="0.6" fill="none"/>
<rect x="122.40" y="286.00" width="59.60" height="14.20" rx="0" stroke="#888" stroke-width="0.7" fill="none"/>
<line x1="122.40" y1="298.40" x2="182.00" y2="298.40" stroke="#999" stroke-width="0.7" />
<rect x="198.00" y="267.00" width="67.00" height="38.00" rx="0" stroke="#999" stroke-width="0.7" fill="none"/>
<line x1="199.20" y1="267.00" x2="199.20" y2="305.00" stroke="#bbb" stroke-width="0.6" />
<rect x="198.30" y="269.20" width="61.20" height="12.80" rx="1.5" stroke="#999" stroke-width="0.8" fill="none"/>
<line x1="198.30" y1="280.20" x2="259.50" y2="280.20" stroke="#999" stroke-width="0.8" />
<rect x="198.30" y="287.40" width="61.20" height="12.10" rx="1.5" stroke="#999" stroke-width="0.8" fill="none"/>
<line x1="198.30" y1="285.70" x2="259.50" y2="285.70" stroke="#aaa" stroke-width="0.6" />
<line x1="198.30" y1="298.40" x2="259.50" y2="298.40" stroke="#888" stroke-width="1.0" />
<line x1="200.50" y1="269.20" x2="200.50" y2="305.00" stroke="#999" stroke-width="0.8" />
<line x1="203.20" y1="269.20" x2="203.20" y2="305.00" stroke="#aaa" stroke-width="0.8" />
<line x1="255.10" y1="269.20" x2="255.10" y2="305.00" stroke="#999" stroke-width="0.8" />
<line x1="257.30" y1="269.20" x2="257.30" y2="305.00" stroke="#aaa" stroke-width="0.8" />
<rect x="198.30" y="271.70" width="12.60" height="2.60" rx="0" stroke="#999" stroke-width="0.6" fill="none"/>
<rect x="246.50" y="271.70" width="13.00" height="2.60" rx="0" stroke="#999" stroke-width="0.6" fill="none"/>
<line x1="198.30" y1="298.90" x2="210.90" y2="298.90" stroke="#666" stroke-width="1.6" />
<line x1="246.50" y1="298.90" x2="259.50" y2="298.90" stroke="#666" stroke-width="1.6" />
<rect x="268.90" y="267.00" width="72.80" height="38.00" rx="0" stroke="#999" stroke-width="0.7" fill="none"/>
<line x1="270.10" y1="267.00" x2="270.10" y2="305.00" stroke="#bbb" stroke-width="0.6" />
<rect x="274.90" y="269.20" width="60.70" height="12.80" rx="1.5" stroke="#999" stroke-width="0.8" fill="none"/>
<line x1="274.90" y1="280.20" x2="335.60" y2="280.20" stroke="#999" stroke-width="0.8" />
<rect x="274.90" y="287.40" width="60.70" height="12.10" rx="1.5" stroke="#999" stroke-width="0.8" fill="none"/>
<line x1="274.90" y1="285.70" x2="335.60" y2="285.70" stroke="#aaa" stroke-width="0.6" />
<line x1="274.90" y1="298.40" x2="335.60" y2="298.40" stroke="#888" stroke-width="1.0" />
<line x1="277.70" y1="269.20" x2="277.70" y2="305.00" stroke="#999" stroke-width="0.8" />
<line x1="279.30" y1="269.20" x2="279.30" y2="305.00" stroke="#aaa" stroke-width="0.8" />
<line x1="331.20" y1="269.20" x2="331.20" y2="305.00" stroke="#999" stroke-width="0.8" />
<line x1="332.50" y1="269.20" x2="332.50" y2="305.00" stroke="#aaa" stroke-width="0.8" />
<rect x="274.90" y="271.70" width="12.60" height="2.60" rx="0" stroke="#999" stroke-width="0.6" fill="none"/>
<rect x="322.60" y="271.70" width="13.00" height="2.60" rx="0" stroke="#999" stroke-width="0.6" fill="none"/>
<line x1="274.90" y1="298.90" x2="287.50" y2="298.90" stroke="#666" stroke-width="1.6" />
<line x1="322.60" y1="298.90" x2="335.60" y2="298.90" stroke="#666" stroke-width="1.6" />
<rect x="342.00" y="280.00" width="4.00" height="26.40" rx="0" stroke="#bbb" stroke-width="0.7" fill="none"/>
<path d="M182.2,339.7 L182.2,268.2 L198,268.2 L198,339.7" stroke="#888" stroke-width="0.9" fill="none"/>
<line x1="182.20" y1="277.80" x2="198.00" y2="277.80" stroke="#777" stroke-width="0.8" />
<circle cx="189.80" cy="273.00" r="2.60" stroke="#888" stroke-width="0.8" fill="#ccc"/>
<circle cx="189.80" cy="273.00" r="0.80" stroke="none" stroke-width="0.8" fill="#555"/>
<line x1="183.60" y1="277.80" x2="183.60" y2="339.70" stroke="#666" stroke-width="0.8" />
<line x1="196.60" y1="277.80" x2="196.60" y2="339.70" stroke="#666" stroke-width="0.8" />
<line x1="186.30" y1="277.80" x2="186.30" y2="339.70" stroke="#aaa" stroke-width="0.8" />
<line x1="189.00" y1="277.80" x2="189.00" y2="339.70" stroke="#aaa" stroke-width="0.8" />
<line x1="191.10" y1="277.80" x2="191.10" y2="339.70" stroke="#aaa" stroke-width="0.8" />
<line x1="193.90" y1="277.80" x2="193.90" y2="339.70" stroke="#aaa" stroke-width="0.8" />
<line x1="397.30" y1="268.10" x2="574.50" y2="268.10" stroke="#888" stroke-width="0.8" />
<line x1="424.60" y1="270.00" x2="572.50" y2="270.00" stroke="#999" stroke-width="0.8" />
<line x1="574.50" y1="268.10" x2="580.50" y2="276.50" stroke="#888" stroke-width="0.8" />
<line x1="572.50" y1="270.00" x2="578.50" y2="277.00" stroke="#999" stroke-width="0.8" />
<rect x="399.90" y="276.80" width="24.40" height="33.70" rx="0" stroke="#666" stroke-width="0.9" fill="none"/>
<line x1="412.60" y1="268.10" x2="412.60" y2="339.70" stroke="#888" stroke-width="0.8" />
<line x1="403.70" y1="276.80" x2="403.70" y2="339.70" stroke="#aaa" stroke-width="0.8" />
<line x1="401.70" y1="276.80" x2="401.70" y2="339.70" stroke="#aaa" stroke-width="0.8" />
<line x1="423.80" y1="270.00" x2="423.80" y2="339.70" stroke="#555" stroke-width="1.0" />
<circle cx="404.00" cy="272.60" r="2.50" stroke="#888" stroke-width="0.8" fill="#bbb"/>
<circle cx="404.00" cy="272.60" r="0.80" stroke="none" stroke-width="0.8" fill="#555"/>
<circle cx="419.80" cy="272.60" r="2.50" stroke="#888" stroke-width="0.8" fill="#bbb"/>
<circle cx="419.80" cy="272.60" r="0.80" stroke="none" stroke-width="0.8" fill="#555"/>
<path d="M512.7,339.7 L512.7,268.1 L528.7,268.1 L528.7,339.7" stroke="#999" stroke-width="0.8" fill="none"/>
<path d="M514.2,339.7 L514.2,276 L526.8,276 L526.8,339.7" stroke="#777" stroke-width="0.9" fill="none"/>
<line x1="516.90" y1="276.00" x2="516.90" y2="339.70" stroke="#999" stroke-width="0.8" />
<line x1="524.50" y1="276.00" x2="524.50" y2="339.70" stroke="#999" stroke-width="0.8" />
<circle cx="520.50" cy="272.60" r="2.70" stroke="#999" stroke-width="0.8" fill="#c8c8c8"/>
<line x1="480.90" y1="270.00" x2="480.90" y2="306.30" stroke="#888" stroke-width="0.8" />
<line x1="483.40" y1="270.00" x2="483.40" y2="306.30" stroke="#888" stroke-width="0.8" />
<line x1="548.80" y1="270.00" x2="548.80" y2="306.30" stroke="#888" stroke-width="0.8" />
<line x1="551.80" y1="270.00" x2="551.80" y2="306.30" stroke="#888" stroke-width="0.8" />
<line x1="64.00" y1="306.30" x2="600.00" y2="306.30" stroke="#999" stroke-width="0.8" />
<line x1="64.00" y1="310.50" x2="600.00" y2="310.50" stroke="#666" stroke-width="0.9" />
<line x1="64.00" y1="314.60" x2="600.00" y2="314.60" stroke="#777" stroke-width="0.8" />
<line x1="262.40" y1="310.40" x2="262.40" y2="339.70" stroke="#aaa" stroke-width="0.8" />
<line x1="267.00" y1="310.40" x2="267.00" y2="339.70" stroke="#666" stroke-width="0.8" />
<line x1="301.00" y1="310.40" x2="301.00" y2="339.70" stroke="#888" stroke-width="0.8" />
<line x1="309.00" y1="310.40" x2="309.00" y2="339.70" stroke="#aaa" stroke-width="0.8" />
<line x1="328.00" y1="310.40" x2="328.00" y2="339.70" stroke="#aaa" stroke-width="0.8" />
<line x1="332.00" y1="310.40" x2="332.00" y2="339.70" stroke="#666" stroke-width="0.8" />
<line x1="465.20" y1="310.40" x2="465.20" y2="339.70" stroke="#888" stroke-width="0.8" />
<line x1="468.30" y1="310.40" x2="468.30" y2="339.70" stroke="#888" stroke-width="0.8" />
<rect x="586.10" y="302.50" width="15.20" height="8.00" rx="0" stroke="#666" stroke-width="1.0" fill="none"/>
<line x1="586.10" y1="302.50" x2="601.30" y2="302.50" stroke="#555" stroke-width="1.3" />
<line x1="583.70" y1="310.50" x2="586.10" y2="303.50" stroke="#999" stroke-width="0.8" />
<line x1="604.00" y1="310.50" x2="601.30" y2="303.50" stroke="#999" stroke-width="0.8" />
<line x1="593.90" y1="304.00" x2="593.90" y2="309.00" stroke="#aaa" stroke-width="0.8" />
<path d="M592.5,306 L593.9,304 L595.3,306" stroke="#aaa" stroke-width="0.6" fill="none"/>
<line x1="592.70" y1="310.50" x2="592.70" y2="339.70" stroke="#888" stroke-width="0.8" />
<line x1="596.30" y1="310.50" x2="596.30" y2="339.70" stroke="#888" stroke-width="0.8" /></g>
<g transform="matrix(1,0,0,-1,0,677.300)"><line x1="600.00" y1="306.30" x2="702.00" y2="306.30" stroke="#666" stroke-width="1.0" />
<line x1="600.00" y1="310.50" x2="702.00" y2="310.50" stroke="#666" stroke-width="1.0" />
<line x1="600.00" y1="314.60" x2="702.00" y2="314.60" stroke="#777" stroke-width="0.8" />
<path d="M615.2,310.2 L619.6,307.6 L701.7,307.6" stroke="#aaa" stroke-width="0.8" fill="none"/>
<line x1="646.80" y1="310.40" x2="646.80" y2="338.650" stroke="#aaa" stroke-width="0.8" />
<line x1="650.60" y1="310.40" x2="650.60" y2="338.650" stroke="#777" stroke-width="0.8" />
<line x1="680.00" y1="310.10" x2="700.30" y2="317.50" stroke="#999" stroke-width="0.8" />
<line x1="683.70" y1="307.60" x2="683.70" y2="310.40" stroke="#aaa" stroke-width="0.8" />
<line x1="701.70" y1="306.40" x2="743.50" y2="306.40" stroke="#888" stroke-width="0.8" />
<line x1="704.30" y1="309.20" x2="743.50" y2="309.20" stroke="#999" stroke-width="0.8" />
<line x1="701.70" y1="306.40" x2="701.70" y2="338.650" stroke="#666" stroke-width="1.0" />
<line x1="704.30" y1="306.40" x2="704.30" y2="338.650" stroke="#999" stroke-width="0.8" />
<line x1="704.30" y1="314.70" x2="743.50" y2="314.70" stroke="#aaa" stroke-width="0.8" />
<line x1="704.30" y1="320.30" x2="743.50" y2="320.30" stroke="#888" stroke-width="0.8" />
<line x1="704.30" y1="329.50" x2="743.50" y2="329.50" stroke="#888" stroke-width="0.8" />
<path d="M722,338.65 L722,329.5 L730.1,329.5 L730.1,338.65" stroke="#777" stroke-width="0.8" fill="none"/>
<line x1="724.20" y1="329.50" x2="724.20" y2="338.650" stroke="#aaa" stroke-width="0.8" />
<line x1="728.20" y1="329.50" x2="728.20" y2="338.650" stroke="#aaa" stroke-width="0.8" />
<line x1="743.50" y1="264.70" x2="743.50" y2="338.650" stroke="#777" stroke-width="1.0" />
<line x1="746.30" y1="264.70" x2="746.30" y2="338.650" stroke="#999" stroke-width="0.8" />
<line x1="750.00" y1="264.70" x2="750.00" y2="338.650" stroke="#aaa" stroke-width="0.8" />
<line x1="753.70" y1="264.70" x2="753.70" y2="338.650" stroke="#888" stroke-width="0.9" />
<line x1="743.50" y1="264.70" x2="753.70" y2="264.70" stroke="#666" stroke-width="0.8" />
<line x1="743.50" y1="283.10" x2="753.70" y2="283.10" stroke="#999" stroke-width="0.8" />
<circle cx="749.40" cy="271.00" r="2.00" stroke="#999" stroke-width="0.8" fill="none"/>
<path d="M754.6,338.65 L754.6,321.2 L762.3,321.2 L762.3,338.65" stroke="#888" stroke-width="0.8" fill="none"/>
<line x1="755.50" y1="321.20" x2="755.50" y2="338.650" stroke="#aaa" stroke-width="0.8" />
<line x1="754.60" y1="323.00" x2="762.30" y2="323.00" stroke="#aaa" stroke-width="0.8" />
<line x1="743.50" y1="331.70" x2="754.00" y2="331.70" stroke="#444" stroke-width="1.6" /></g>
<rect x="349.30" y="268.10" width="48.70" height="38.00" rx="0" stroke="#999" stroke-width="0.7" fill="none"/>
<line x1="349.30" y1="268.10" x2="349.30" y2="306.10" stroke="#555" stroke-width="1.0" />
<line x1="351.70" y1="268.10" x2="351.70" y2="306.10" stroke="#aaa" stroke-width="0.8" />
<circle cx="349.30" cy="271.00" r="1.00" stroke="none" stroke-width="0.8" fill="#444"/>
<circle cx="349.30" cy="303.50" r="1.00" stroke="none" stroke-width="0.8" fill="#444"/>
<line x1="398.00" y1="268.10" x2="398.00" y2="306.10" stroke="#999" stroke-width="1.8" />
<circle cx="398.00" cy="271.90" r="0.90" stroke="none" stroke-width="0.8" fill="#333"/>
<line x1="353.20" y1="373.00" x2="353.20" y2="410.80" stroke="#aaa" stroke-width="0.8" />
<line x1="349.00" y1="410.90" x2="397.30" y2="410.70" stroke="#888" stroke-width="0.8" />
<defs><pattern id="h1" patternUnits="userSpaceOnUse" width="4.6" height="10" patternTransform="rotate(-37)"><line x1="0" y1="0" x2="0" y2="10" stroke="#707070" stroke-width="0.95"/></pattern><pattern id="h2" patternUnits="userSpaceOnUse" width="4.5" height="10" patternTransform="rotate(40)"><line x1="0" y1="0" x2="0" y2="10" stroke="#707070" stroke-width="0.95"/></pattern></defs>
<rect x="67.4" y="285" width="114.6" height="21.3" fill="url(#h1)"/>
<rect x="67.4" y="314.6" width="114.6" height="50.4" fill="url(#h2)"/>
<rect x="67.4" y="373.3" width="114.6" height="21.3" fill="url(#h2)"/>
<rect x="66.50" y="266.50" width="13.10" height="146.60" rx="0" stroke="#666" stroke-width="1.0" fill="none"/>
<line x1="67.40" y1="285.00" x2="67.40" y2="394.60" stroke="#888" stroke-width="0.8" />
<line x1="70.50" y1="285.00" x2="70.50" y2="394.60" stroke="#666" stroke-width="0.8" />
<line x1="78.80" y1="285.00" x2="78.80" y2="394.60" stroke="#666" stroke-width="1.1" />
<line x1="79.50" y1="285.00" x2="182.00" y2="285.00" stroke="#666" stroke-width="1.0" />
<line x1="79.50" y1="394.60" x2="182.00" y2="394.60" stroke="#666" stroke-width="1.0" />
<path d="M66.3,339.7 L590,339.59999999999997 L620,338.84999999999997 L743.5,338.65" stroke="#999" stroke-width="0.8" fill="none"/>
<rect x="64.00" y="306.30" width="2.30" height="8.30" rx="0" stroke="#999" stroke-width="0.7" fill="none"/>
<rect x="64.00" y="365.00" width="2.30" height="8.30" rx="0" stroke="#999" stroke-width="0.7" fill="none"/>
<path d="M77.8,285.5 L104.4,312.7" stroke="#999" stroke-width="2.6" fill="none"/>
<path d="M77.8,285.5 L104.4,312.7" stroke="#fff" stroke-width="1.2" fill="none"/>
<path d="M78,394.2 L104.4,367" stroke="#999" stroke-width="2.6" fill="none"/>
<path d="M78,394.2 L104.4,367" stroke="#fff" stroke-width="1.2" fill="none"/>
<path d="M234.5,312.4 L242.6,312.4 L242.6,316.2 Q248.2,317 248.2,322 L248.2,358 Q248.2,363 242.6,363.6 L242.6,367.4 L234.5,367.4 L234.5,363.6 Q229.4,363 229.4,358 L229.4,322 Q229.4,317 234.5,316.2 Z" stroke="#777" stroke-width="0.8" fill="#fff"/>
<line x1="229.40" y1="321.20" x2="248.20" y2="321.20" stroke="#aaa" stroke-width="0.8" />
<line x1="229.40" y1="358.70" x2="248.20" y2="358.70" stroke="#aaa" stroke-width="0.8" />
<line x1="231.60" y1="321.20" x2="231.60" y2="358.70" stroke="#bbb" stroke-width="0.8" />
<line x1="236.00" y1="317.00" x2="236.00" y2="363.00" stroke="#aaa" stroke-width="0.8" />
<line x1="239.60" y1="317.00" x2="239.60" y2="363.00" stroke="#bbb" stroke-width="0.8" />
<rect x="234.50" y="312.40" width="8.10" height="1.80" rx="0" stroke="#666" stroke-width="0.6" fill="#aaa"/>
<rect x="234.50" y="365.60" width="8.10" height="1.80" rx="0" stroke="#666" stroke-width="0.6" fill="#aaa"/>
<line x1="229.40" y1="339.60" x2="250.00" y2="339.60" stroke="#999" stroke-width="0.8" />
<line x1="224.30" y1="314.60" x2="224.30" y2="365.00" stroke="#999" stroke-width="0.8" />
<line x1="262.40" y1="314.60" x2="262.40" y2="365.00" stroke="#aaa" stroke-width="0.8" />
<circle cx="520.50" cy="339.50" r="30.00" stroke="#888" stroke-width="0.8" fill="none"/>
<path d="M516.8,327.2 L523.8,327.2 M520.3,327.2 L520.3,333.5 M516.8,333.5 L523.8,333.5" stroke="#555" stroke-width="1.0" fill="none"/>
<line x1="516.80" y1="327.20" x2="516.80" y2="333.50" stroke="#bbb" stroke-width="0.6" />
<line x1="523.80" y1="327.20" x2="523.80" y2="333.50" stroke="#bbb" stroke-width="0.6" />
<path d="M516.8,346 L523.8,346 M520.3,346 L520.3,351.8 M516.8,351.8 L523.8,351.8" stroke="#555" stroke-width="1.0" fill="none"/>
<line x1="516.80" y1="346.00" x2="516.80" y2="351.80" stroke="#bbb" stroke-width="0.6" />
<line x1="523.80" y1="346.00" x2="523.80" y2="351.80" stroke="#bbb" stroke-width="0.6" />
<circle cx="726.70" cy="338.60" r="3.80" stroke="#666" stroke-width="0.9" fill="none"/>
<path d="M620,263 Q611,281 603.8,301" stroke="#888" stroke-width="0.8" fill="none"/>
<line x1="616.50" y1="270.20" x2="726.70" y2="338.60" stroke="#888" stroke-width="0.8" />
<path d="M616.50,270.20 L620.32,271.63 L619.48,272.99Z" fill="#666"/>
<text x="659.00" y="289.50" font-size="10.5" fill="#626262" text-anchor="middle" dominant-baseline="central" transform="rotate(33 659.00 289.50)">R2320</text>
<line x1="726.70" y1="338.60" x2="759.70" y2="270.50" stroke="#888" stroke-width="0.8" />
<path d="M759.70,270.50 L758.68,274.45 L757.24,273.75Z" fill="#666"/>
<path d="M741.9,260.7 Q755,264 766.6,271" stroke="#888" stroke-width="0.8" fill="none"/>
<text x="768.40" y="253.80" font-size="10.5" fill="#626262" text-anchor="middle" dominant-baseline="central" transform="rotate(-58 768.40 253.80)">R1340</text></svg></body></html>
